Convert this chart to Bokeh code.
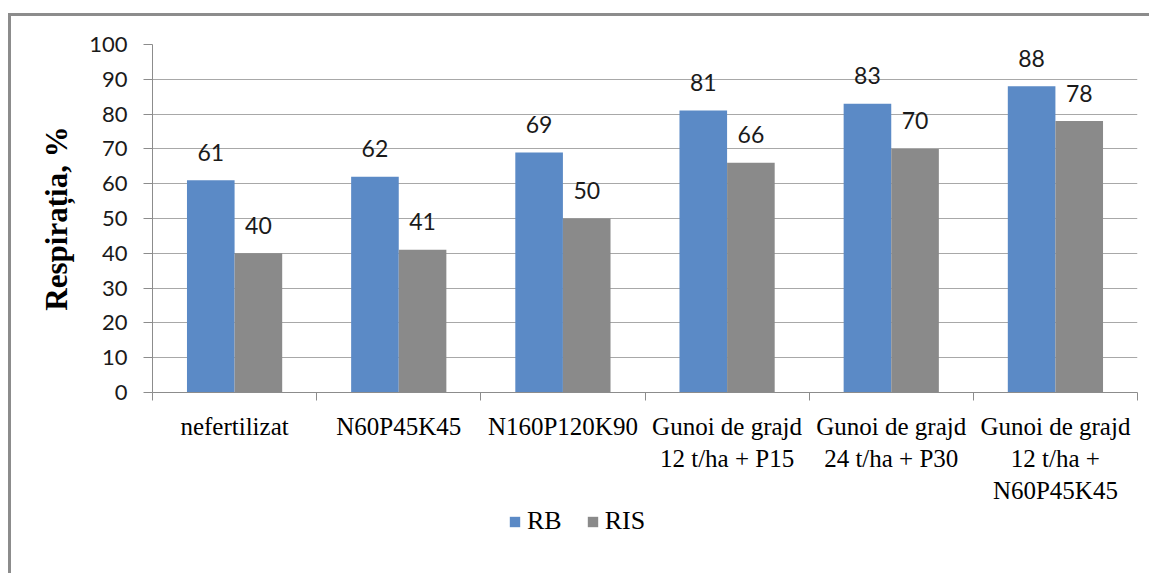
from bokeh.plotting import figure
from bokeh.layouts import column
from bokeh.models import ColumnDataSource, Range1d, FixedTicker, Legend, LegendItem
from bokeh.transform import dodge
from bokeh.core.properties import value
from bokeh.embed import file_html
from bokeh.resources import INLINE

# ---- data ----
categories = [
    "nefertilizat",
    "N60P45K45",
    "N160P120K90",
    "Gunoi de grajd\n12 t/ha + P15",
    "Gunoi de grajd\n24 t/ha + P30",
    "Gunoi de grajd\n12 t/ha +\nN60P45K45",
]
rb_values = [61, 62, 69, 81, 83, 88]
ris_values = [40, 41, 50, 66, 70, 78]
series_names = ["RB", "RIS"]
y_ticks = [0, 10, 20, 30, 40, 50, 60, 70, 80, 90, 100]
y_label = "Respirația, %"

BLUE = "#5B8AC6"
GRAY = "#8A8A8A"
GRID = "#A8A8A8"
AXIS = "#8C8C8C"

n = len(categories)
xc = [i + 0.5 for i in range(n)]
src = ColumnDataSource(dict(
    x=xc, rb=rb_values, ris=ris_values,
    rb_txt=[str(v) for v in rb_values], ris_txt=[str(v) for v in ris_values],
))

p = figure(frame_width=985, frame_height=348, output_backend="svg", toolbar_location=None,
           x_range=Range1d(0, n), y_range=Range1d(0, 100),
           min_border_left=141, min_border_right=12, min_border_top=28, min_border_bottom=0)
p.outline_line_color = None
p.background_fill_color = "white"
p.border_fill_color = "white"

r_rb = p.vbar(x=dodge("x", -0.145, range=p.x_range), top="rb", width=0.29, source=src,
              fill_color=BLUE, line_color=None)
r_ris = p.vbar(x=dodge("x", 0.145, range=p.x_range), top="ris", width=0.29, source=src,
               fill_color=GRAY, line_color=None)

for col, txt, off in (("rb", "rb_txt", -0.145), ("ris", "ris_txt", 0.145)):
    p.text(x=dodge("x", off, range=p.x_range), y=col, text=txt, source=src,
           text_align="center", text_baseline="alphabetic", y_offset=-28,
           text_font=value("Lato"), text_font_size="23px", text_color="#1A1A1A")

# x axis
xa = p.xaxis[0]
xa.ticker = FixedTicker(ticks=xc, minor_ticks=list(range(n + 1)))
xa.major_label_overrides = {v: c for v, c in zip(xc, categories)}
xa.major_tick_line_color = None
xa.major_tick_out = 0
xa.major_tick_in = 0
xa.minor_tick_out = 8
xa.minor_tick_in = 0
xa.minor_tick_line_color = AXIS
xa.axis_line_color = AXIS
xa.major_label_standoff = 12
xa.major_label_text_font = "Liberation Serif"
xa.major_label_text_font_size = "25px"
xa.major_label_text_color = "black"
xa.major_label_text_line_height = 1.2

# y axis
ya = p.yaxis[0]
ya.ticker = FixedTicker(ticks=y_ticks, minor_ticks=[])
ya.major_tick_out = 9
ya.major_tick_in = 0
ya.major_tick_line_color = AXIS
ya.axis_line_color = AXIS
ya.major_label_standoff = 16
ya.major_label_text_font = "Lato"
ya.major_label_text_font_size = "22px"
ya.major_label_text_color = "#1A1A1A"
ya.axis_label = y_label
ya.axis_label_text_font = "Liberation Serif"
ya.axis_label_text_font_style = "bold"
ya.axis_label_text_font_size = "31px"
ya.axis_label_text_color = "black"
ya.axis_label_standoff = 12

p.xgrid.visible = False
p.ygrid.grid_line_color = GRID

# legend strip below the chart (its frame is aligned with the chart's frame)
pl = figure(width=1138, height=66, output_backend="svg", toolbar_location=None,
            x_range=Range1d(0, n), y_range=Range1d(1000, 1001),
            x_axis_type=None, y_axis_type=None,
            min_border_left=0, min_border_right=0, min_border_top=0, min_border_bottom=0)
pl.outline_line_color = None
pl.xgrid.visible = False
pl.ygrid.visible = False
l_rb = pl.vbar(x="x", top="rb", width=0.29, source=src, fill_color=BLUE, line_color=None)
l_ris = pl.vbar(x="x", top="ris", width=0.29, source=src, fill_color=GRAY, line_color=None)
legend = Legend(items=[LegendItem(label=series_names[0], renderers=[l_rb]),
                       LegendItem(label=series_names[1], renderers=[l_ris])],
                orientation="horizontal", location=(356, 37),
                padding=0, margin=0, border_line_color=None, background_fill_alpha=0,
                glyph_width=13, glyph_height=13, label_standoff=6, spacing=24,
                label_text_font="Liberation Serif", label_text_font_size="26px",
                label_text_color="black")
pl.add_layout(legend, "center")

layout = column(p, pl, spacing=0)
layout.margin = (13, 0, 0, 8)
layout.styles = {"border-top": "3px solid #8C8C8C", "border-left": "3px solid #8C8C8C"}

open("out.html", "w").write(file_html(layout, INLINE))
